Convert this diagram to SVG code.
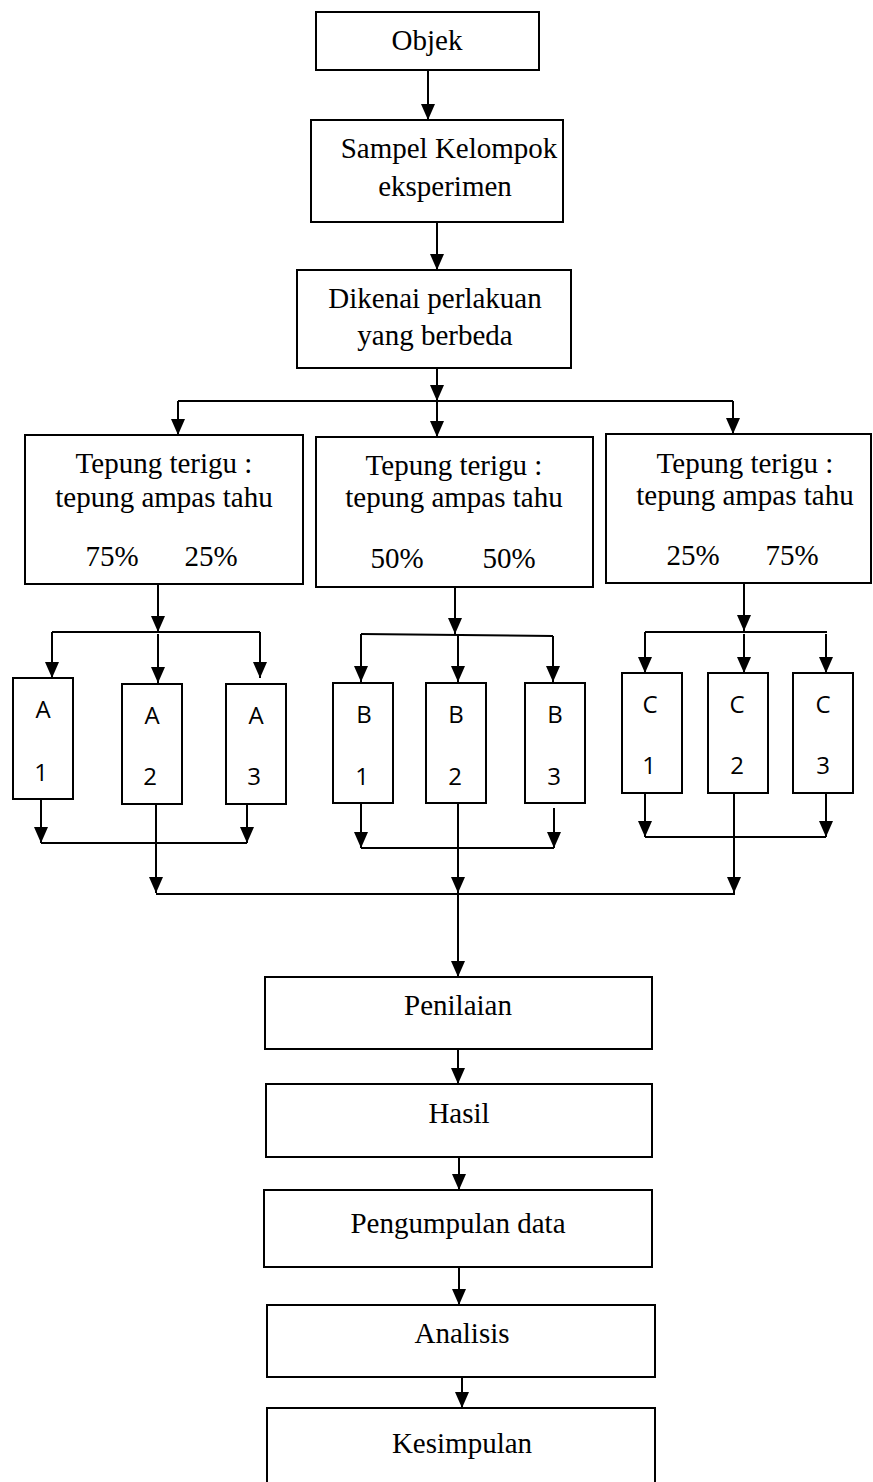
<svg xmlns="http://www.w3.org/2000/svg" width="873" height="1482" viewBox="0 0 873 1482">
<style>
rect{fill:#fff;stroke:#000;stroke-width:2}
.t{font-family:"Liberation Serif","Times New Roman",serif;font-size:29px;fill:#000;text-anchor:middle}
.s{font-family:"Open Sans","Liberation Sans",Arial,sans-serif;font-size:24px;fill:#000;text-anchor:middle}
#connectors path,#connectors line{stroke:#000;stroke-width:2;fill:none}
</style>
<defs>
<marker id="ah" viewBox="0 0 16 14" refX="16" refY="7" markerWidth="16" markerHeight="14" markerUnits="userSpaceOnUse" orient="auto">
<path d="M0,0 L16,7 L0,14 Z" fill="#000"/>
</marker>
</defs>
<rect x="0" y="0" width="873" height="1482" style="stroke:none"/>
<g id="connectors">
<line x1="428" y1="70" x2="428" y2="120" marker-end="url(#ah)"/>
<line x1="437" y1="222" x2="437" y2="270" marker-end="url(#ah)"/>
<line x1="437" y1="368" x2="437" y2="401" marker-end="url(#ah)"/>
<path d="M178,401 H733"/>
<line x1="178" y1="401" x2="178" y2="435" marker-end="url(#ah)"/>
<line x1="437" y1="401" x2="437" y2="437" marker-end="url(#ah)"/>
<line x1="733" y1="401" x2="733" y2="434" marker-end="url(#ah)"/>
<line x1="158" y1="584" x2="158" y2="632" marker-end="url(#ah)"/>
<path d="M52,632 H260"/>
<line x1="52" y1="632" x2="52" y2="678" marker-end="url(#ah)"/>
<line x1="158" y1="634" x2="158" y2="683" marker-end="url(#ah)"/>
<line x1="260" y1="632" x2="260" y2="678" marker-end="url(#ah)"/>
<line x1="41" y1="799" x2="41" y2="843" marker-end="url(#ah)"/>
<line x1="247" y1="804" x2="247" y2="843" marker-end="url(#ah)"/>
<path d="M41,843 H247"/>
<line x1="156" y1="804" x2="156" y2="893" marker-end="url(#ah)"/>
<line x1="455" y1="586" x2="455" y2="634" marker-end="url(#ah)"/>
<path d="M361,634 L553,636"/>
<line x1="361" y1="634" x2="361" y2="682" marker-end="url(#ah)"/>
<line x1="458" y1="635" x2="458" y2="682" marker-end="url(#ah)"/>
<line x1="553" y1="636" x2="553" y2="682" marker-end="url(#ah)"/>
<line x1="361" y1="803" x2="361" y2="848" marker-end="url(#ah)"/>
<line x1="554" y1="808" x2="554" y2="848" marker-end="url(#ah)"/>
<path d="M361,848 H554"/>
<line x1="458" y1="803" x2="458" y2="893" marker-end="url(#ah)"/>
<line x1="744" y1="583" x2="744" y2="631" marker-end="url(#ah)"/>
<path d="M645,632 H827"/>
<line x1="645" y1="632" x2="645" y2="673" marker-end="url(#ah)"/>
<line x1="744" y1="634" x2="744" y2="673" marker-end="url(#ah)"/>
<line x1="826" y1="634" x2="826" y2="673" marker-end="url(#ah)"/>
<line x1="645" y1="793" x2="645" y2="837" marker-end="url(#ah)"/>
<line x1="826" y1="793" x2="826" y2="837" marker-end="url(#ah)"/>
<path d="M645,837 H826"/>
<line x1="734" y1="793" x2="734" y2="893" marker-end="url(#ah)"/>
<path d="M156,894 H735"/>
<line x1="458" y1="893" x2="458" y2="977" marker-end="url(#ah)"/>
<line x1="458" y1="1049" x2="458" y2="1084" marker-end="url(#ah)"/>
<line x1="459" y1="1157" x2="459" y2="1190" marker-end="url(#ah)"/>
<line x1="459" y1="1265" x2="459" y2="1305" marker-end="url(#ah)"/>
<line x1="462" y1="1375" x2="462" y2="1408" marker-end="url(#ah)"/>
</g>
<g id="objek"><rect x="316" y="12" width="223" height="58"/><text class="t" x="427" y="50">Objek</text></g>
<g id="sampel"><rect x="311" y="120" width="252" height="102"/><text class="t" x="449" y="158">Sampel Kelompok</text><text class="t" x="445" y="196">eksperimen</text></g>
<g id="dikenai"><rect x="297" y="270" width="274" height="98"/><text class="t" x="435" y="308">Dikenai perlakuan</text><text class="t" x="435" y="345">yang berbeda</text></g>
<g id="p1"><rect x="25" y="435" width="278" height="149"/><text class="t" x="164" y="473">Tepung terigu :</text><text class="t" x="164" y="507">tepung ampas tahu</text><text class="t" x="112" y="566">75%</text><text class="t" x="211" y="566">25%</text></g>
<g id="p2"><rect x="316" y="437" width="277" height="150"/><text class="t" x="454" y="475">Tepung terigu :</text><text class="t" x="454" y="507">tepung ampas tahu</text><text class="t" x="397" y="568">50%</text><text class="t" x="509" y="568">50%</text></g>
<g id="p3"><rect x="606" y="434" width="265" height="149"/><text class="t" x="745" y="473">Tepung terigu :</text><text class="t" x="745" y="505">tepung ampas tahu</text><text class="t" x="693" y="565">25%</text><text class="t" x="792" y="565">75%</text></g>
<g id="a1"><rect x="13" y="678" width="60" height="121"/><text class="s" x="43" y="718">A</text><text class="s" x="41" y="781">1</text></g>
<g id="a2"><rect x="122" y="684" width="60" height="120"/><text class="s" x="152" y="724">A</text><text class="s" x="150" y="785">2</text></g>
<g id="a3"><rect x="226" y="684" width="60" height="120"/><text class="s" x="256" y="724">A</text><text class="s" x="254" y="785">3</text></g>
<g id="b1"><rect x="333" y="683" width="60" height="120"/><text class="s" x="364" y="723">B</text><text class="s" x="362" y="785">1</text></g>
<g id="b2"><rect x="426" y="683" width="60" height="120"/><text class="s" x="456" y="723">B</text><text class="s" x="455" y="785">2</text></g>
<g id="b3"><rect x="525" y="683" width="60" height="120"/><text class="s" x="555" y="723">B</text><text class="s" x="554" y="785">3</text></g>
<g id="c1"><rect x="622" y="673" width="60" height="120"/><text class="s" x="650" y="713">C</text><text class="s" x="649" y="774">1</text></g>
<g id="c2"><rect x="708" y="673" width="60" height="120"/><text class="s" x="737" y="713">C</text><text class="s" x="737" y="774">2</text></g>
<g id="c3"><rect x="793" y="673" width="60" height="120"/><text class="s" x="823" y="713">C</text><text class="s" x="823" y="774">3</text></g>
<g id="penilaian"><rect x="265" y="977" width="387" height="72"/><text class="t" x="458" y="1015">Penilaian</text></g>
<g id="hasil"><rect x="266" y="1084" width="386" height="73"/><text class="t" x="459" y="1123">Hasil</text></g>
<g id="pengumpulan"><rect x="264" y="1190" width="388" height="77"/><text class="t" x="458" y="1233">Pengumpulan data</text></g>
<g id="analisis"><rect x="267" y="1305" width="388" height="72"/><text class="t" x="462" y="1343">Analisis</text></g>
<g id="kesimpulan"><rect x="267" y="1408" width="388" height="80"/><text class="t" x="462" y="1453">Kesimpulan</text></g>
</svg>
